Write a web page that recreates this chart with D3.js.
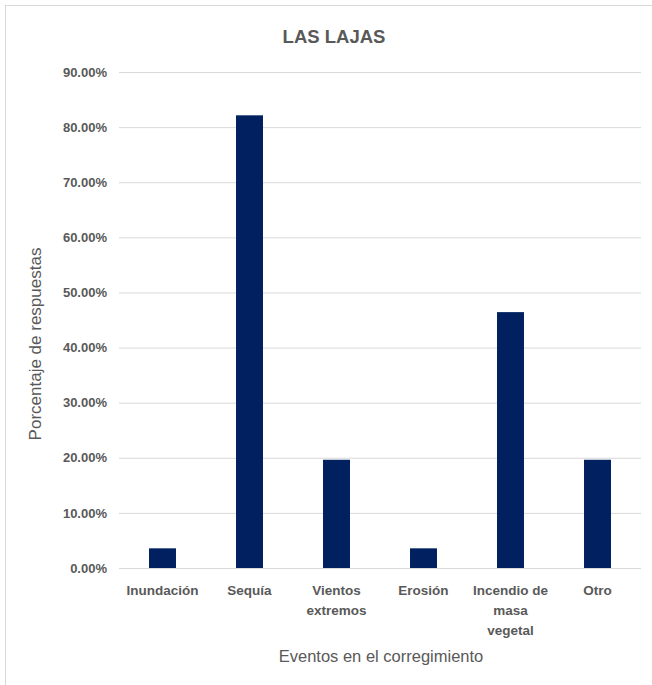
<!DOCTYPE html>
<html>
<head>
<meta charset="utf-8">
<script src="https://cdn.jsdelivr.net/npm/d3@7"></script>
<style>
  html, body { margin: 0; padding: 0; background: #fff; }
  svg { display: block; }
</style>
</head>
<body>
<div id="chart"></div>
<script>
// Eventos reportados en el corregimiento (share of responses)
const categories = ["Inundación", "Sequía", "Vientos extremos", "Erosión", "Incendio de masa vegetal", "Otro"];
const categoryLines = [["Inundación"], ["Sequía"], ["Vientos", "extremos"], ["Erosión"], ["Incendio de", "masa", "vegetal"], ["Otro"]];
const values = [0.0357, 0.8214, 0.1964, 0.0357, 0.4643, 0.1964];
const yTicks = [0, 0.1, 0.2, 0.3, 0.4, 0.5, 0.6, 0.7, 0.8, 0.9];
const titleText = "LAS LAJAS";
const xTitle = "Eventos en el corregimiento";
const yTitle = "Porcentaje de respuestas";

const W = 652, H = 685;
const plot = { left: 119, right: 641, top: 72, bottom: 568 };
const textColor = "#595959";
const font = "'Liberation Sans', Arial, sans-serif";

const svg = d3.select("#chart").append("svg")
  .attr("width", W).attr("height", H);

// chart frame (extends past the right/bottom edges)
svg.append("rect")
  .attr("x", 5.5).attr("y", 5.5)
  .attr("width", W + 10).attr("height", H + 10)
  .attr("fill", "#fff").attr("stroke", "#d9d9d9").attr("stroke-width", 1);

const x = d3.scaleBand()
  .domain(categories)
  .range([plot.left, plot.right])
  .paddingInner(0.69).paddingOuter(0.345);

const y = d3.scaleLinear()
  .domain([0, 0.9])
  .range([plot.bottom, plot.top]);

// gridlines + y tick labels
const yAxis = d3.axisLeft(y)
  .tickValues(yTicks)
  .tickSize(-(plot.right - plot.left))
  .tickPadding(12)
  .tickFormat(d => (d * 100).toFixed(2) + "%");

const gy = svg.append("g")
  .attr("transform", `translate(${plot.left},0)`)
  .call(yAxis);
gy.select(".domain").remove();
gy.selectAll(".tick line").attr("stroke", "#d9d9d9").attr("stroke-width", 1);
gy.selectAll(".tick text")
  .attr("fill", textColor)
  .style("font-family", font)
  .style("font-size", "13px")
  .style("font-weight", "bold");

// bars
svg.append("g").selectAll("rect")
  .data(values)
  .join("rect")
  .attr("x", (d, i) => x(categories[i]))
  .attr("y", d => y(d))
  .attr("width", x.bandwidth())
  .attr("height", d => y(0) - y(d))
  .attr("fill", "#002060");

// baseline
svg.append("line")
  .attr("x1", plot.left).attr("x2", plot.right)
  .attr("y1", y(0) + 0.5).attr("y2", y(0) + 0.5)
  .attr("stroke", "#d9d9d9");

// category labels (wrapped)
const xl = svg.append("g");
categories.forEach((c, i) => {
  const t = xl.append("text")
    .attr("x", x(c) + x.bandwidth() / 2)
    .attr("y", 595)
    .attr("text-anchor", "middle")
    .attr("fill", textColor)
    .style("font-family", font)
    .style("font-size", "13.5px")
    .style("font-weight", "bold");
  categoryLines[i].forEach((ln, k) => {
    t.append("tspan")
      .attr("x", x(c) + x.bandwidth() / 2)
      .attr("dy", k === 0 ? 0 : 20)
      .text(ln);
  });
});

// title
svg.append("text")
  .attr("x", 334).attr("y", 43)
  .attr("text-anchor", "middle")
  .attr("fill", textColor)
  .style("font-family", font)
  .style("font-size", "18.5px")
  .style("font-weight", "bold")
  .text(titleText);

// axis titles
svg.append("text")
  .attr("x", 381).attr("y", 662)
  .attr("text-anchor", "middle")
  .attr("fill", textColor)
  .style("font-family", font)
  .style("font-size", "16.5px")
  .text(xTitle);

svg.append("text")
  .attr("transform", `translate(41,344) rotate(-90)`)
  .attr("text-anchor", "middle")
  .attr("fill", textColor)
  .style("font-family", font)
  .style("font-size", "17px")
  .text(yTitle);
</script>
</body>
</html>
